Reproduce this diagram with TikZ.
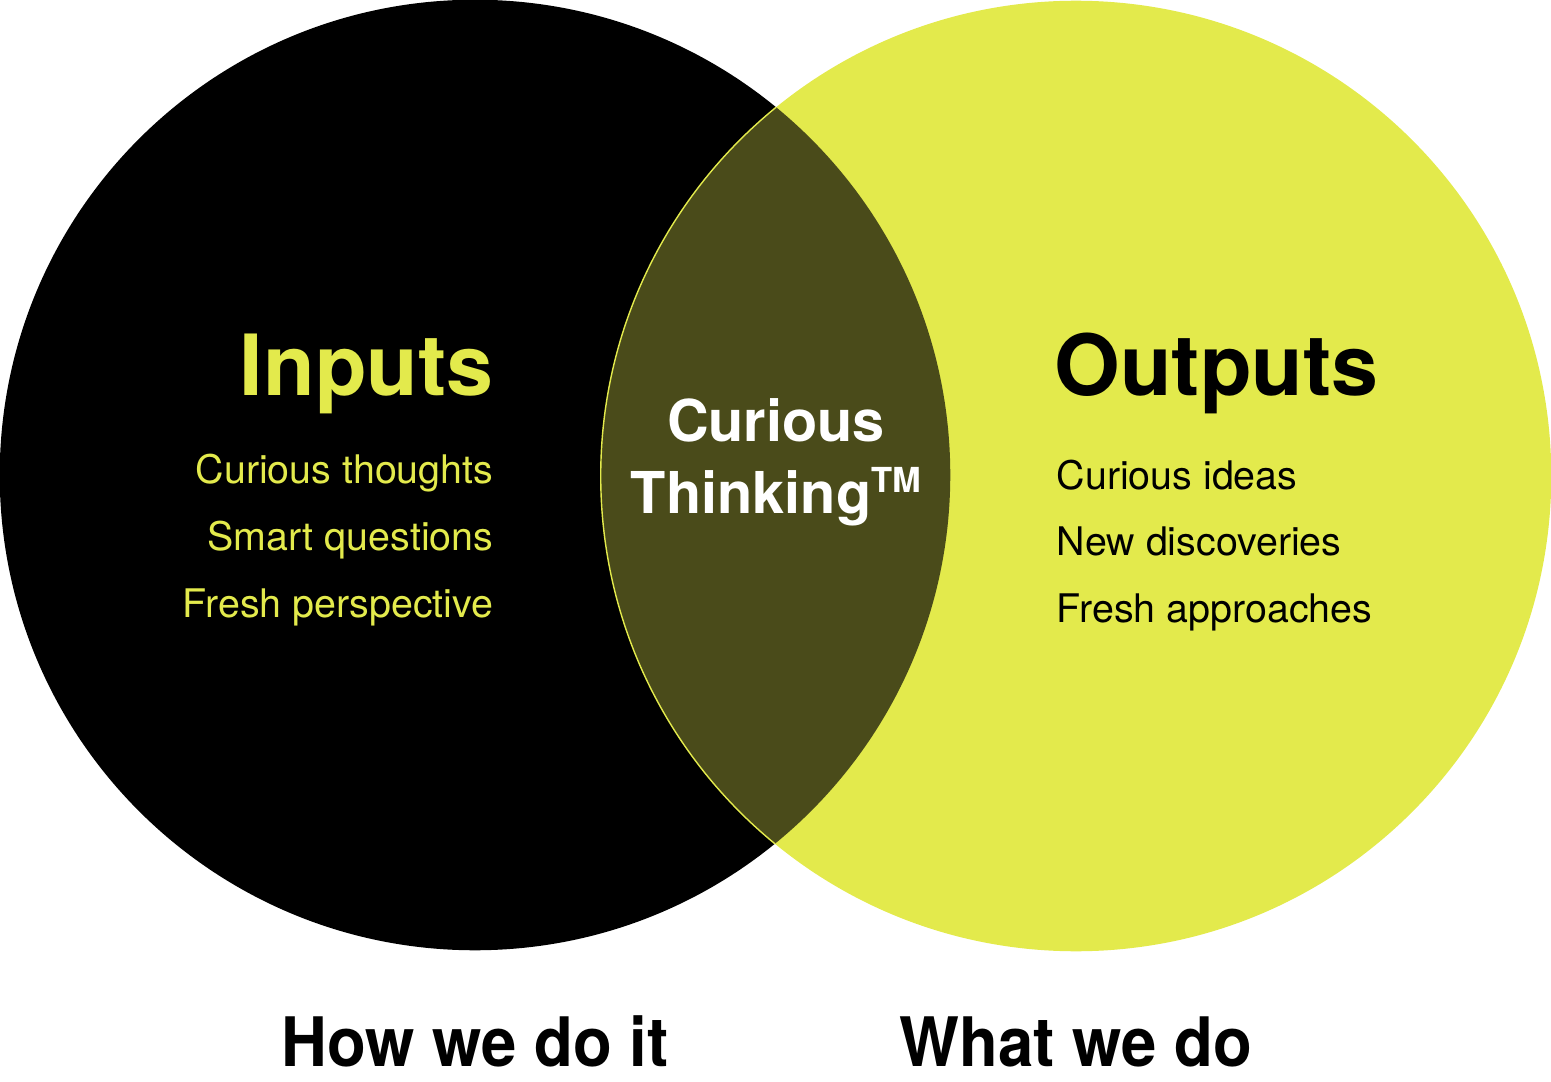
\documentclass[tikz,border=0pt]{standalone}
\usepackage{fontspec}
\setmainfont{TeX Gyre Heros}
\newfontfamily\narrowfont[FakeStretch=0.93]{TeX Gyre Heros}
\usepackage{xcolor}
\usepackage{tikz}
\usetikzlibrary{positioning}

\definecolor{lime}{RGB}{227,234,76}
\definecolor{olive}{RGB}{74,75,26}

\newcommand{\trademark}{\raisebox{5.7pt}{\fontsize{9.8}{9.8}\selectfont TM}}

\begin{document}
\begin{tikzpicture}[
    x=0.01cm, y=-0.01cm,
    heading/.style={inner sep=0pt, font=\fontsize{24}{24}\selectfont\bfseries},
    item/.style={inner sep=0pt, font=\fontsize{11.2}{11.2}\selectfont},
    core/.style={inner sep=0pt, font=\fontsize{16.4}{16.4}\selectfont\bfseries, text=white},
    caption/.style={inner sep=0pt, font=\narrowfont\fontsize{19.4}{19.4}\selectfont\bfseries}
]
    \useasboundingbox (0,0) rectangle (1551,1082);
    % the two circles
    \fill[black] (475,475) circle (4.75cm);
    \fill[lime] (1076,476) circle (4.75cm);
    % the overlap
    \begin{scope}
        \clip (475,475) circle (4.75cm);
        \fill[olive] (1076,476) circle (4.75cm);
        \draw[lime, line width=0.4pt] (1076,476) circle (4.75cm);
    \end{scope}

    \node[heading, text=lime, anchor=base east] (inputs) at (494,395) {Inputs};
    \node[item, text=lime, anchor=base east] (in1) at (494,483) {Curious thoughts};
    \node[item, text=lime, anchor=base east] (in2) at (494,550) {Smart questions};
    \node[item, text=lime, anchor=base east] (in3) at (494,617) {Fresh perspective};

    \node[heading, anchor=base west] (outputs) at (1054,395) {Outputs};
    \node[item, anchor=base west] (out1) at (1056,489) {Curious ideas};
    \node[item, anchor=base west] (out2) at (1056,555) {New discoveries};
    \node[item, anchor=base west] (out3) at (1056,622) {Fresh approaches};

    \node[core, anchor=base] (curious) at (776,442) {Curious};
    \node[core, anchor=base] (thinking) at (776,513) {Thinking\trademark};

    \node[caption, anchor=base] (how) at (475,1066) {How we do it};
    \node[caption, anchor=base] (what) at (1076,1066) {What we do};
\end{tikzpicture}
\end{document}
